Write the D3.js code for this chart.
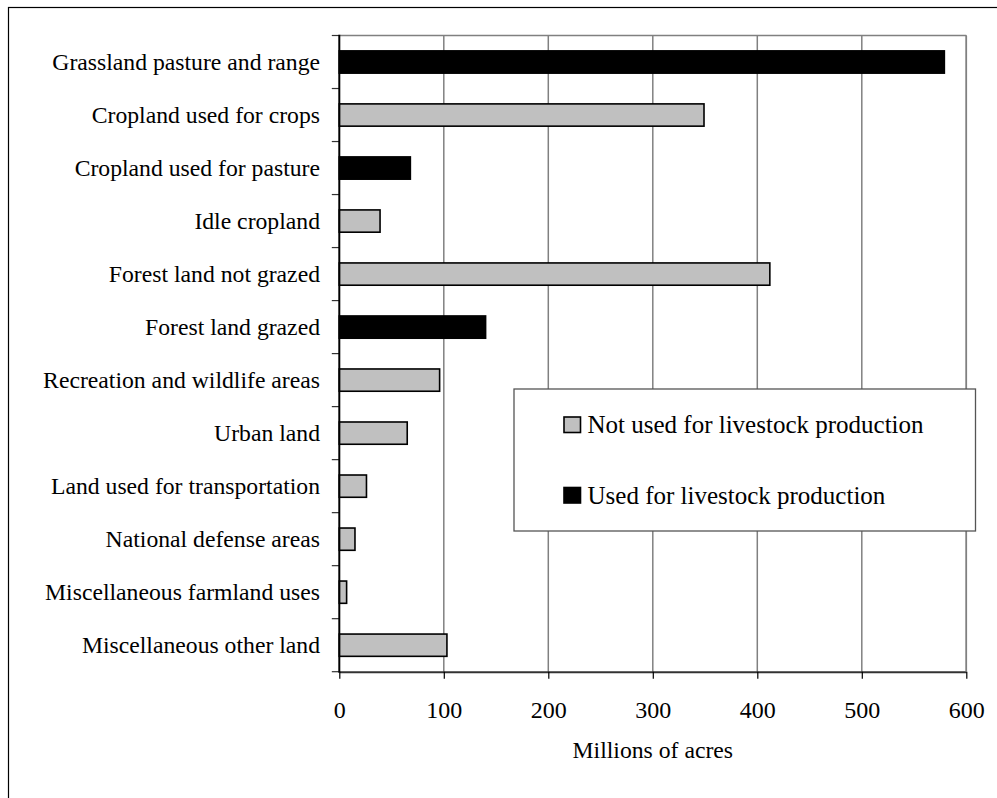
<!DOCTYPE html>
<html>
<head>
<meta charset="utf-8">
<script src="https://cdn.jsdelivr.net/npm/d3@7"></script>
<style>
  html, body { margin: 0; padding: 0; background: #fff; }
  svg text { font-family: "Liberation Serif", "Times New Roman", Times, serif; }
</style>
</head>
<body>
<svg id="chart" width="997" height="798" font-family="Liberation Serif"></svg>
<script>
// Major uses of land (millions of acres)
const categories = [
  "Grassland pasture and range",
  "Cropland used for crops",
  "Cropland used for pasture",
  "Idle cropland",
  "Forest land not grazed",
  "Forest land grazed",
  "Recreation and wildlife areas",
  "Urban land",
  "Land used for transportation",
  "National defense areas",
  "Miscellaneous farmland uses",
  "Miscellaneous other land"
];
const acres = [579, 349, 68, 39, 412, 140, 96, 65, 26, 15, 7, 103];
const livestock = [true, false, true, false, false, true, false, false, false, false, false, false];
const seriesNames = ["Not used for livestock production", "Used for livestock production"];
const xTicks = [0, 100, 200, 300, 400, 500, 600];
const xTitle = "Millions of acres";

const FONT = "Liberation Serif, Times New Roman, Times, serif";
const svg = d3.select("#chart");
const m = { left: 339.3, right: 966.3, top: 35.5, bottom: 671.7 };

const x = d3.scaleLinear().domain([0, 600]).range([m.left, m.right]);
const y = d3.scaleBand().domain(categories).range([m.top, m.bottom]).paddingInner(0.58).paddingOuter(0.29);
const band = d3.scaleBand().domain(categories).range([m.top, m.bottom]);
const fillFor = used => used ? "#000" : "#c0c0c0";

// outer frame
svg.append("rect").attr("x", 8.5).attr("y", 7.5).attr("width", 1000).attr("height", 800)
  .attr("fill", "none").attr("stroke", "#000").attr("stroke-width", 1.2);

// vertical gridlines
svg.append("g").selectAll("line").data(xTicks.slice(1)).join("line")
  .attr("x1", d => x(d)).attr("x2", d => x(d))
  .attr("y1", m.top).attr("y2", m.bottom)
  .attr("stroke", "#808080").attr("stroke-width", 1.5);

// top plot border
svg.append("line").attr("x1", m.left).attr("x2", m.right).attr("y1", m.top).attr("y2", m.top)
  .attr("stroke", "#808080").attr("stroke-width", 1.5);

// bars
svg.append("g").selectAll("rect").data(categories).join("rect")
  .attr("x", x(0))
  .attr("y", d => y(d))
  .attr("width", (d, i) => x(acres[i]) - x(0))
  .attr("height", y.bandwidth())
  .attr("fill", (d, i) => fillFor(livestock[i]))
  .attr("stroke", "#000")
  .attr("stroke-width", 1.6);

// x axis
const xAxis = d3.axisBottom(x).tickValues(xTicks).tickSize(7).tickPadding(22).tickSizeOuter(0);
const gx = svg.append("g").attr("transform", `translate(0,${m.bottom})`).call(xAxis)
  .attr("font-family", FONT).attr("font-size", 24);
gx.select(".domain").attr("stroke", "#333").attr("stroke-width", 2);
gx.selectAll(".tick line").attr("stroke", "#000").attr("stroke-width", 1.2);
gx.selectAll(".tick text").attr("fill", "#000");

// y axis: ticks on the category boundaries
const gy = svg.append("g").attr("font-family", FONT);
const boundaries = categories.map(c => band(c)).concat([m.bottom]);
gy.selectAll("line.tk").data(boundaries).join("line").attr("class", "tk")
  .attr("x1", m.left - 7.5).attr("x2", m.left)
  .attr("y1", d => d).attr("y2", d => d)
  .attr("stroke", "#333").attr("stroke-width", 1.2);
gy.append("line").attr("x1", m.left).attr("x2", m.left).attr("y1", m.top - 0.7).attr("y2", m.bottom + 1)
  .attr("stroke", "#000").attr("stroke-width", 2);
gy.selectAll("text").data(categories).join("text")
  .attr("x", 320)
  .attr("y", d => band(d) + band.bandwidth() / 2)
  .attr("dy", "0.32em")
  .attr("text-anchor", "end")
  .attr("font-size", 23.7)
  .text(d => d);

// right plot border
svg.append("line").attr("x1", m.right).attr("x2", m.right).attr("y1", m.top).attr("y2", m.bottom)
  .attr("stroke", "#808080").attr("stroke-width", 1.5);

// axis title
svg.append("text").attr("x", (m.left + m.right) / 2).attr("y", 758)
  .attr("font-family", FONT)
  .attr("text-anchor", "middle").attr("font-size", 23.7).text(xTitle);

// legend
const lg = svg.append("g").attr("font-family", FONT);
lg.append("rect").attr("x", 514).attr("y", 389).attr("width", 461.5).attr("height", 142)
  .attr("fill", "#fff").attr("stroke", "#555").attr("stroke-width", 1.3);
const items = lg.selectAll("g.item").data(seriesNames).join("g").attr("class", "item")
  .attr("transform", (d, i) => `translate(564,${417 + i * 70.5})`);
items.append("rect").attr("width", 16.5).attr("height", 15.5)
  .attr("fill", (d, i) => fillFor(i === 1))
  .attr("stroke", "#000").attr("stroke-width", 1.6);
items.append("text").attr("x", 23.5).attr("y", 16).attr("font-size", 25).text(d => d);
</script>
</body>
</html>
